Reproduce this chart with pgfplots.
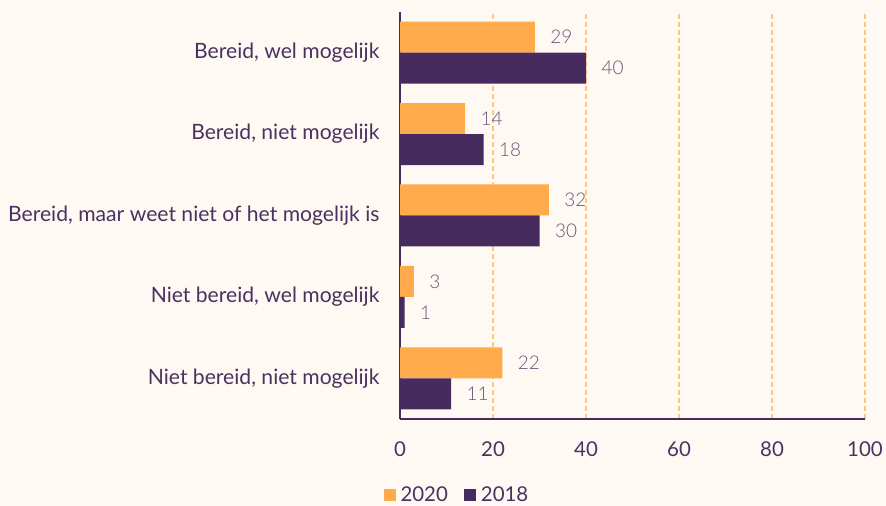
\documentclass[border=0pt]{standalone}
\usepackage{pgfplots}
\pgfplotsset{compat=1.18}
\usepackage{fontspec}
\setmainfont{Lato}
\newfontfamily\lightfont{Lato Light}
\definecolor{bg}{RGB}{255,249,243}
\definecolor{oranje}{RGB}{255,170,75}
\definecolor{paars}{RGB}{71,43,95}
\definecolor{lab}{RGB}{74,49,96}
\definecolor{val}{RGB}{100,86,120}
\definecolor{grid}{RGB}{255,200,130}
\newcommand{\fs}[1]{\fontsize{#1}{#1}\selectfont}
\begin{document}
\begin{tikzpicture}[x=1bp,y=1bp]
\path[fill=bg, use as bounding box] (0,0) rectangle (886,506);
\begin{axis}[
  at={(400bp,87bp)}, anchor=south west,
  scale only axis, width=465bp, height=407bp,
  xbar, bar width=31bp,
  xmin=0, xmax=100, ymin=-0.5, ymax=4.5,
  xtick={0,20,...,100}, ytick={0,...,4},
  yticklabels={{Niet bereid, niet mogelijk}, {Niet bereid, wel mogelijk},
    {Bereid, maar weet niet of het mogelijk is}, {Bereid, niet mogelijk}, {Bereid, wel mogelijk}},
  axis lines=left,
  axis line style={draw=paars, line width=1.2pt, -},
  major tick length=0pt,
  xmajorgrids, grid style={draw=grid, line width=1.3pt, dash pattern=on 5bp off 3bp},
  tick label style={text=lab},
  yticklabel style={font=\fs{21.2}, anchor=east, xshift=-17bp},
  xticklabel style={font=\fs{20.5}, yshift=-19bp},
  /pgf/number format/assume math mode=true,
  nodes near coords,
  nodes near coords style={anchor=west, xshift=12bp, font=\lightfont\fs{19}, text=val},
  legend columns=2,
  legend style={at={(0.1224,-0.187)}, anchor=center, draw=none, fill=none,
    font=\fs{20.5}, text=lab, /tikz/every even column/.append style={column sep=14bp}},
]
\addplot[fill=oranje, draw=none, bar shift=15.5bp,
  legend image code/.code={\fill[oranje] (0bp,-6bp) rectangle (12bp,6bp); \path (15bp,0bp);}]
  coordinates {(22,0) (3,1) (32,2) (14,3) (29,4)};
\addplot[fill=paars, draw=none, bar shift=-15.5bp,
  legend image code/.code={\fill[paars] (0bp,-6bp) rectangle (12bp,6bp); \path (15bp,0bp);}]
  coordinates {(11,0) (1,1) (30,2) (18,3) (40,4)};
\legend{2020, 2018}
\end{axis}
\end{tikzpicture}
\end{document}
